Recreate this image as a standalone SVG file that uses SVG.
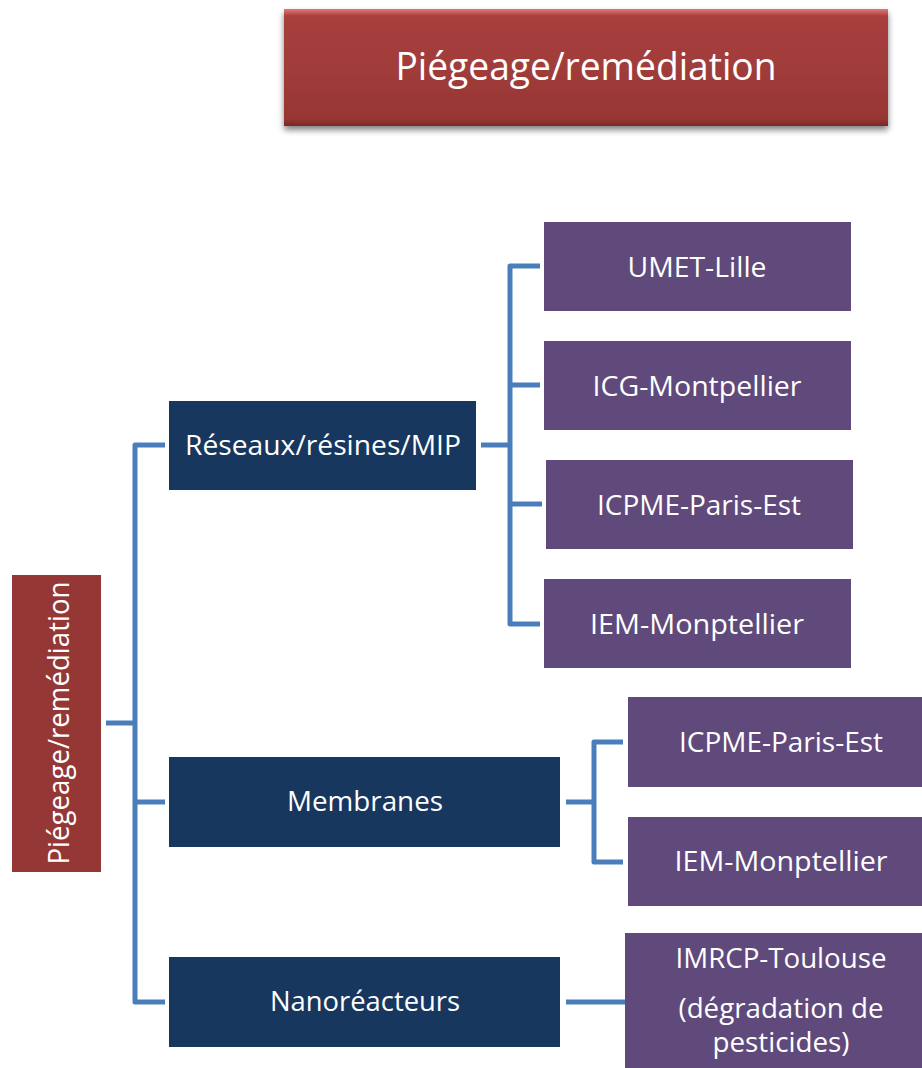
<svg xmlns="http://www.w3.org/2000/svg" width="922" height="1068" viewBox="0 0 922 1068">
<defs>
<style>
text{font-family:"Open Sans","Liberation Sans",sans-serif;fill:#fff;text-anchor:middle}
.navy{fill:#17375E}
.purple{fill:#604A7B}
.t{font-size:27px}
.conn{fill:none;stroke:#4A7EBB;stroke-width:5;stroke-linejoin:round}
</style>
<linearGradient id="tg" x1="0" y1="0" x2="0" y2="1">
<stop offset="0" stop-color="#E07A78"/>
<stop offset="0.06" stop-color="#A83F3D"/>
<stop offset="0.5" stop-color="#A03C3A"/>
<stop offset="0.94" stop-color="#973633"/>
<stop offset="1" stop-color="#7A2826"/>
</linearGradient>
<filter id="sh" x="-5%" y="-10%" width="110%" height="125%">
<feGaussianBlur in="SourceAlpha" stdDeviation="3"/>
<feOffset dx="0" dy="4"/>
<feComponentTransfer><feFuncA type="linear" slope="0.5"/></feComponentTransfer>
<feMerge><feMergeNode/><feMergeNode in="SourceGraphic"/></feMerge>
</filter>
</defs>
<g id="connectors">
<path class="conn" d="M106 723H135M165 445H135V1002H165M135 802H165"/>
<path class="conn" d="M481 445H510M540 266H510V624H540M510 385H540M510 504H542"/>
<path class="conn" d="M566 802H594M623 742H594V862H623"/>
<path class="conn" d="M566 1002H625"/>
</g>
<g id="title">
<rect x="284" y="9" width="604" height="117" fill="url(#tg)" filter="url(#sh)"/>
<text x="586" y="80" font-size="38" textLength="381" lengthAdjust="spacingAndGlyphs">Piégeage/remédiation</text>
</g>
<g id="root">
<rect x="12" y="575" width="89" height="297" fill="#953735"/>
<text transform="translate(69 723) rotate(-90)" font-size="30" textLength="283" lengthAdjust="spacingAndGlyphs">Piégeage/remédiation</text>
</g>
<g id="reseaux">
<rect class="navy" x="169" y="401" width="307" height="89"/>
<text class="t" x="323" y="455" textLength="276" lengthAdjust="spacingAndGlyphs">Réseaux/résines/MIP</text>
</g>
<g id="membranes">
<rect class="navy" x="169" y="757" width="391" height="90"/>
<text class="t" x="365" y="811" textLength="156" lengthAdjust="spacingAndGlyphs">Membranes</text>
</g>
<g id="nanoreacteurs">
<rect class="navy" x="169" y="957" width="391" height="90"/>
<text class="t" x="365" y="1011" textLength="190" lengthAdjust="spacingAndGlyphs">Nanoréacteurs</text>
</g>
<g id="umet">
<rect class="purple" x="544" y="222" width="307" height="89"/>
<text class="t" x="697" y="277" textLength="139" lengthAdjust="spacingAndGlyphs">UMET-Lille</text>
</g>
<g id="icg">
<rect class="purple" x="544" y="341" width="307" height="89"/>
<text class="t" x="697" y="396" textLength="209" lengthAdjust="spacingAndGlyphs">ICG-Montpellier</text>
</g>
<g id="icpme1">
<rect class="purple" x="546" y="460" width="307" height="89"/>
<text class="t" x="699" y="515" textLength="204" lengthAdjust="spacingAndGlyphs">ICPME-Paris-Est</text>
</g>
<g id="iem1">
<rect class="purple" x="544" y="579" width="307" height="89"/>
<text class="t" x="697" y="634" textLength="214" lengthAdjust="spacingAndGlyphs">IEM-Monptellier</text>
</g>
<g id="icpme2">
<rect class="purple" x="628" y="697" width="294" height="90"/>
<text class="t" x="781" y="752" textLength="204" lengthAdjust="spacingAndGlyphs">ICPME-Paris-Est</text>
</g>
<g id="iem2">
<rect class="purple" x="628" y="817" width="294" height="89"/>
<text class="t" x="781" y="871" textLength="213" lengthAdjust="spacingAndGlyphs">IEM-Monptellier</text>
</g>
<g id="imrcp">
<rect class="purple" x="625" y="933" width="297" height="135"/>
<text class="t" x="781" y="968" textLength="211" lengthAdjust="spacingAndGlyphs">IMRCP-Toulouse</text>
<text class="t" x="781" y="1018" textLength="205" lengthAdjust="spacingAndGlyphs">(dégradation de</text>
<text class="t" x="781" y="1052" textLength="137" lengthAdjust="spacingAndGlyphs">pesticides)</text>
</g>
</svg>
